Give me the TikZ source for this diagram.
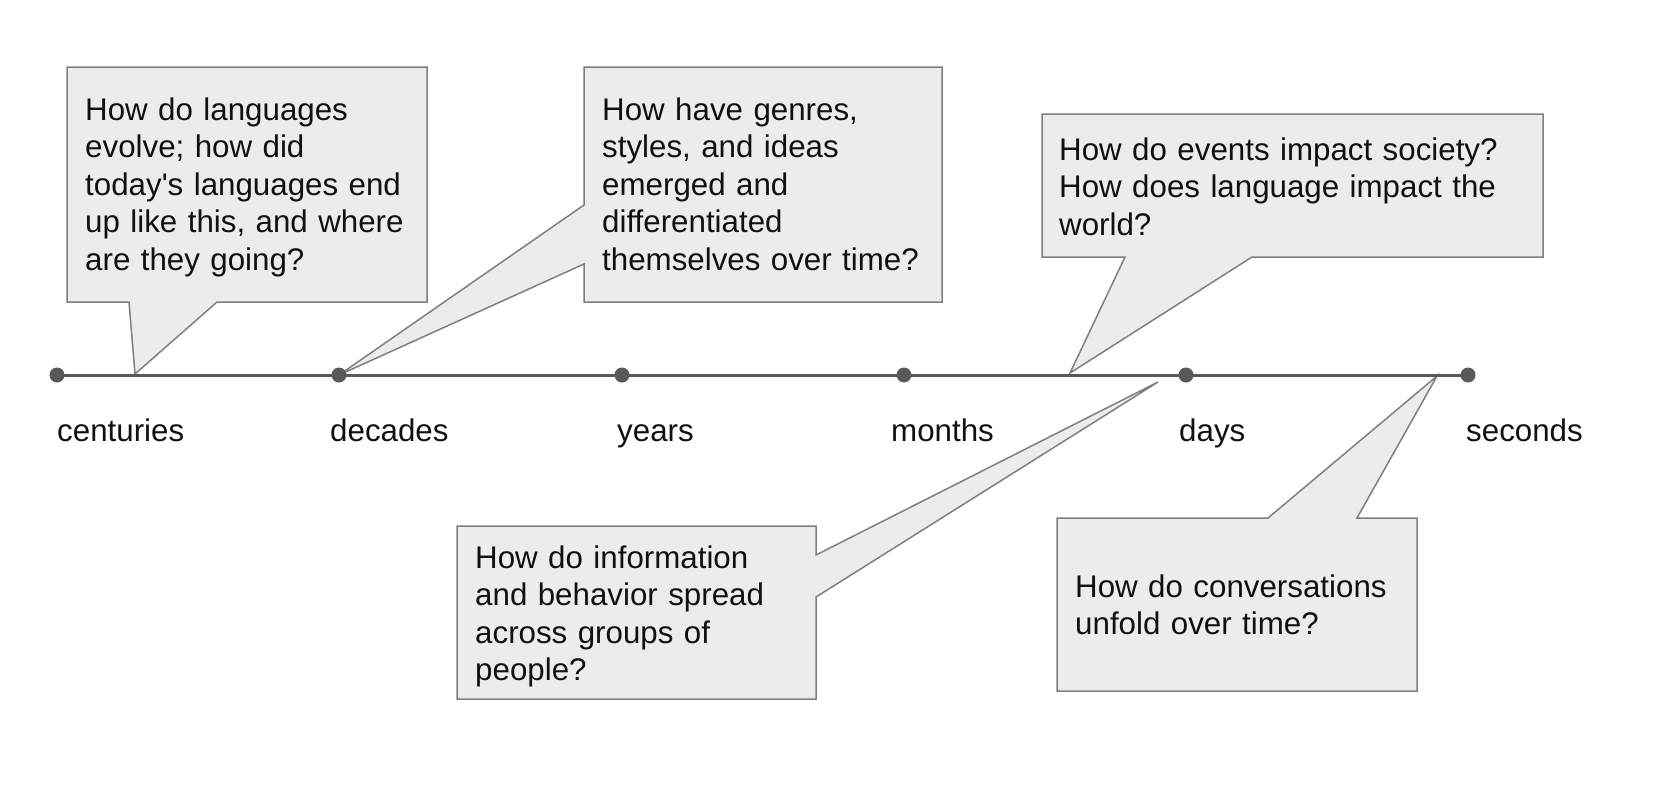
\documentclass[tikz,border=0pt]{standalone}
\usepackage{fontspec}
\setmainfont{Liberation Sans}
\definecolor{boxfill}{HTML}{ECECEC}
\definecolor{boxline}{HTML}{7F7F7F}
\definecolor{axis}{HTML}{595959}
\definecolor{ink}{HTML}{111111}
\begin{document}
\begin{tikzpicture}[x=1pt,y=-1pt,
  callout/.style={fill=boxfill,draw=boxline,line width=1.5pt,line join=miter},
  qtext/.style={anchor=base west,inner sep=0pt,text width=520pt,align=left,text=ink,
    font=\fontsize{31.3}{37.5}\selectfont},
  tlabel/.style={anchor=base west,inner sep=0pt,text=ink,font=\fontsize{31.3}{37.5}\selectfont},
  tdot/.style={circle,fill=axis,inner sep=0pt,minimum size=15pt}]
\fill[white] (0,0) rectangle (1656,790);
\useasboundingbox (0,0) rectangle (1656,790);

% timeline points
\coordinate (p1) at (57,375);
\coordinate (p2) at (339,375);
\coordinate (p3) at (622,375);
\coordinate (p4) at (904,375);
\coordinate (p5) at (1186,375);
\coordinate (p6) at (1468,375);

% pointer tips
\coordinate (t1) at (135,374);
\coordinate (t3) at (1070,373);
\coordinate (t4) at (1158,382);
\coordinate (t5) at (1437,376);

% callouts
\draw[callout] (67,67) -- (427,67) -- (427,302) -- (217,302) -- (t1) -- (129,302) -- (67,302) -- cycle;
\draw[callout] (584,67) -- (942,67) -- (942,302) -- (584,302) -- (584,264) -- (p2) -- (584,205) -- cycle;
\draw[callout] (1042,114) -- (1543,114) -- (1543,257) -- (1252,257) -- (t3) -- (1125,257) -- (1042,257) -- cycle;
\draw[callout] (457,526) -- (816,526) -- (816,555) -- (t4) -- (816,597) -- (816,699) -- (457,699) -- cycle;
\draw[callout] (1057,518) -- (1268,518) -- (t5) -- (1357,518) -- (1417,518) -- (1417,691) -- (1057,691) -- cycle;

% timeline
\draw[axis,line width=3pt] (p1) -- (p6);
\foreach \i in {1,...,6} \node[tdot] (d\i) at (p\i) {};

% labels
\node[tlabel] (l1) at (57,441) {centuries};
\node[tlabel] (l2) at (330,441) {decades};
\node[tlabel] (l3) at (617,441) {years};
\node[tlabel] (l4) at (891,441) {months};
\node[tlabel] (l5) at (1179,441) {days};
\node[tlabel] (l6) at (1466,441) {seconds};

% questions
\node[qtext] (q1) at (85,120) {How do languages\\evolve; how did\\today\textquotesingle s languages end\\up like this, and where\\are they going?};
\node[qtext] (q2) at (602,120) {How have genres,\\styles, and ideas\\emerged and\\differentiated\\themselves over time?};
\node[qtext] (q3) at (1059,160) {How do events impact society?\\How does language impact the\\world?};
\node[qtext] (q4) at (475,568) {How do information\\and behavior spread\\across groups of\\people?};
\node[qtext] (q5) at (1075,597) {How do conversations\\unfold over time?};
\end{tikzpicture}
\end{document}
